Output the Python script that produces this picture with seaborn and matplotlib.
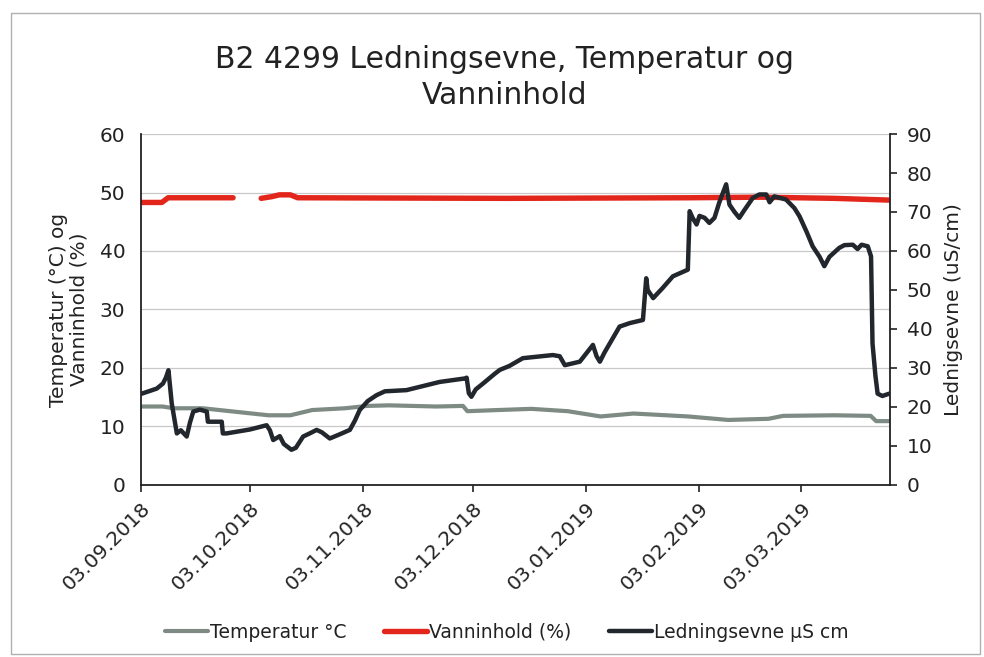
import numpy as np
import pandas as pd
import matplotlib
matplotlib.use("Agg")
import matplotlib.pyplot as plt
import matplotlib.dates as mdates
from matplotlib.patches import Rectangle
import seaborn as sns

# ---------------- data ----------------
start_date = "2018-09-03"
end_offset_days = 205.3

# Ledningsevne (uS/cm), right axis
led_days = [0.3, 4.4, 6.1, 6.9, 7.6, 8.5, 9.9, 11.0, 12.6, 13.5, 14.4, 16.2, 18.1, 18.4, 19.4,
            22.2, 22.5, 23.5, 29.9, 34.5, 35.4, 36.3, 38.1, 39.2, 41.3, 42.5, 44.5, 46.3, 48.2,
            49.6, 51.8, 54.6, 57.3, 58.7, 60.0, 62.2, 64.6, 66.9, 72.8, 81.9, 88.8, 89.3, 89.9,
            90.6, 91.8, 93.8, 97.0, 98.4, 101.0, 104.7, 112.9, 114.8, 116.2, 120.3, 123.9, 124.9,
            125.8, 127.1, 131.2, 134.0, 137.6, 138.5, 138.9, 140.4, 143.0, 145.8, 149.9, 150.4,
            151.2, 152.3, 153.1, 154.5, 155.8, 157.2, 158.5, 160.4, 161.3, 162.7, 164.0, 165.4,
            167.7, 169.5, 171.4, 172.3, 173.6, 176.8, 179.1, 180.5, 182.4, 184.1, 186.0, 187.3,
            188.7, 191.4, 192.8, 195.1, 196.4, 197.5, 199.2, 200.1, 200.5, 201.3, 201.9, 203.2,
            205.1]
led_vals = [23.4, 24.7, 26.0, 27.5, 29.4, 20.9, 13.2, 14.0, 12.4, 16.0, 18.8, 19.3, 18.8, 16.2, 16.2,
            16.2, 13.2, 13.2, 14.2, 15.3, 14.0, 11.5, 12.5, 10.5, 9.0, 9.5, 12.4, 13.2, 14.1,
            13.5, 11.9, 13.0, 14.1, 16.5, 19.2, 21.5, 23.0, 24.0, 24.3, 26.4, 27.3, 27.5, 23.5,
            22.6, 24.5, 26.0, 28.5, 29.5, 30.5, 32.5, 33.3, 33.0, 30.7, 31.6, 35.9, 33.0,
            31.6, 34.0, 40.6, 41.5, 42.3, 53.0, 50.0, 47.9, 50.5, 53.5, 55.2, 70.2,
            68.5, 66.8, 69.0, 68.5, 67.2, 68.5, 72.4, 77.1, 71.9, 70.0, 68.5, 70.5,
            73.6, 74.5, 74.5, 72.5, 74.0, 73.2, 71.0, 68.9, 65.0, 61.2, 58.5, 56.1,
            58.5, 60.8, 61.5, 61.6, 60.5, 61.6, 61.2, 58.6, 36.3, 28.0, 23.4, 22.8,
            23.4]

# Temperatur (degC), left axis
temp_days = [0, 6, 9, 17, 26, 35, 41, 47, 56, 62, 68, 81, 88.3, 89.5, 98, 107, 117, 126,
             135, 150, 161, 172, 176, 190, 200, 201.5, 205.1]
temp_vals = [13.4, 13.4, 13.1, 13.1, 12.5, 11.9, 11.9, 12.8, 13.1, 13.5, 13.6, 13.4, 13.5, 12.6,
             12.8, 13.0, 12.6, 11.7, 12.2, 11.7, 11.1, 11.3, 11.8, 11.9, 11.8, 10.9, 10.9]

# Vanninhold (%), left axis (NaN = gap in logging)
vann_days = [0, 5.8, 7.5, 25.3, 29.0, 33.0, 36.0, 38.0, 41.0, 43.0, 100, 150, 170, 190, 205.1]
vann_vals = [48.3, 48.3, 49.1, 49.1, np.nan, 49.0, 49.3, 49.6, 49.6, 49.1, 49.0, 49.1, 49.2, 49.0, 48.7]

title_text = "B2 4299 Ledningsevne, Temperatur og\nVanninhold"
left_label = "Temperatur (°C) og\nVanninhold (%)"
right_label = "Lednigsevne (uS/cm)"
legend_labels = ["Temperatur °C", "Vanninhold (%)", "Ledningsevne µS cm"]
left_ticks = [0, 10, 20, 30, 40, 50, 60]
right_ticks = [0, 10, 20, 30, 40, 50, 60, 70, 80, 90]
month_ticks = ["2018-09-03", "2018-10-03", "2018-11-03", "2018-12-03",
               "2019-01-03", "2019-02-03", "2019-03-03"]

# ---------------- frames ----------------
t0 = pd.Timestamp(start_date)
to_dt = lambda d: t0 + pd.to_timedelta(np.asarray(d, dtype=float), unit="D")
led_df = pd.DataFrame({"date": to_dt(led_days), "val": led_vals})
temp_df = pd.DataFrame({"date": to_dt(temp_days), "val": temp_vals})
vann_df = pd.DataFrame({"date": to_dt(vann_days), "val": vann_vals})
vann_df["seg"] = vann_df["val"].isna().cumsum()
vann_df = vann_df.dropna()

# ---------------- plot ----------------
sns.set_theme(style="white")
plt.rcParams["font.family"] = ["DejaVu Sans"]

fig = plt.figure(figsize=(9.84, 6.57), dpi=100)
ax = fig.add_axes([0.143, 0.262, 0.7615, 0.534])
ax2 = ax.twinx()

c_temp = "#7d8b84"
c_vann = "#e3261c"
c_led = "#22272d"

sns.lineplot(data=temp_df, x="date", y="val", ax=ax, color=c_temp, lw=3.0,
             label=legend_labels[0], legend=False)
for i, (_, seg) in enumerate(vann_df.groupby("seg")):
    sns.lineplot(data=seg, x="date", y="val", ax=ax, color=c_vann, lw=3.9,
                 label=legend_labels[1] if i == 0 else None, legend=False)
sns.lineplot(data=led_df, x="date", y="val", ax=ax2, color=c_led, lw=3.2,
             label=legend_labels[2], legend=False)

xmin = t0
xmax = t0 + pd.Timedelta(days=end_offset_days)
ax.set_xlim(xmin, xmax)
ax.set_ylim(0, 60)
ax2.set_ylim(0, 90)

ax.set_yticks(left_ticks)
ax2.set_yticks(right_ticks)
ax.set_xticks(pd.to_datetime(month_ticks))
ax.xaxis.set_major_formatter(mdates.DateFormatter("%d.%m.%Y"))
for lbl in ax.get_xticklabels():
    lbl.set_rotation(45)
    lbl.set_ha("right")
    lbl.set_rotation_mode("anchor")

ax.grid(axis="y", color="#c8c8c8", lw=0.9)
ax.set_axisbelow(True)
ax2.grid(False)

ax.tick_params(axis="y", length=0, pad=11, labelsize=14.5, colors="#222222")
ax.tick_params(axis="x", length=5, width=1.2, direction="out", pad=5, labelsize=14.5,
               colors="#222222", bottom=True)
ax2.tick_params(axis="y", length=5, width=1.2, direction="out", pad=7, labelsize=14.5,
                colors="#222222", right=True)

for a in (ax, ax2):
    a.spines["top"].set_visible(False)
    a.set_xlabel("")
ax.spines["left"].set_color("#222222"); ax.spines["left"].set_linewidth(1.3)
ax.spines["bottom"].set_color("#222222"); ax.spines["bottom"].set_linewidth(1.3)
ax.spines["right"].set_visible(False)
ax2.spines["left"].set_visible(False)
ax2.spines["bottom"].set_visible(False)
ax2.spines["right"].set_color("#222222"); ax2.spines["right"].set_linewidth(1.3)

ax.set_ylabel(left_label, fontsize=14.5, color="#222222", labelpad=8, linespacing=1.1)
ax2.set_ylabel(right_label, fontsize=14.5, color="#222222", labelpad=8)

fig.text(0.513, 0.882, title_text, ha="center", va="center", fontsize=21.5,
         color="#222222", linespacing=1.32)

h1, l1 = ax.get_legend_handles_labels()
h2, l2 = ax2.get_legend_handles_labels()
fig.legend(h1 + h2, l1 + l2, loc="center", bbox_to_anchor=(0.515, 0.038), ncol=3,
           frameon=False, fontsize=13.5, handlelength=2.3, handletextpad=0.1,
           columnspacing=2.0, labelcolor="#222222")

fig.patches.append(Rectangle((11 / 984, 3 / 657), 969 / 984, 641 / 657,
                             transform=fig.transFigure, fill=False,
                             edgecolor="#b0b0b0", lw=1.0))

fig.savefig("out.png", dpi=100, facecolor="white")
